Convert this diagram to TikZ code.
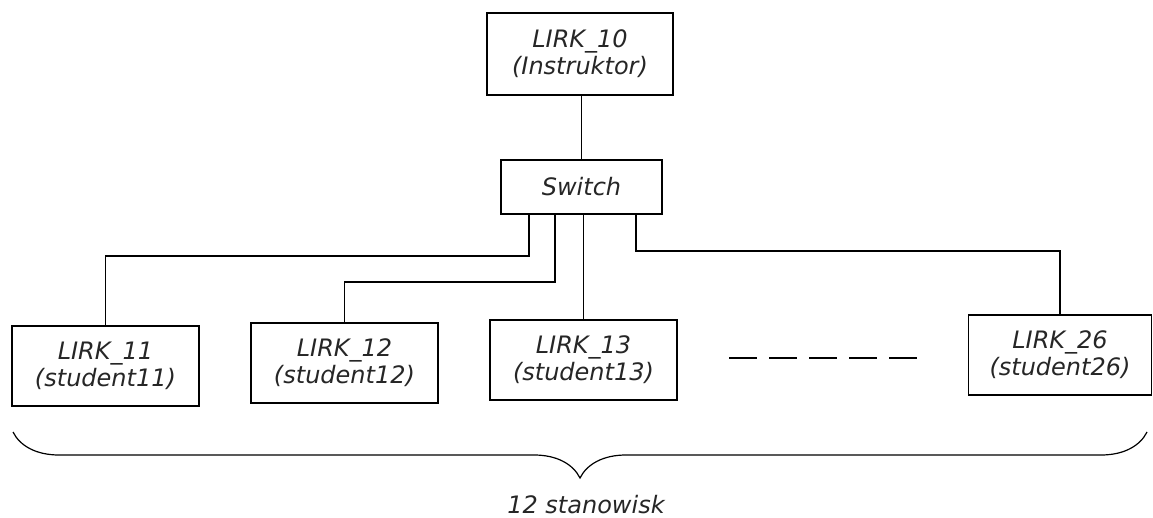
\documentclass[tikz,border=0pt]{standalone}
\usepackage{fontspec}
\setmainfont{DejaVu Sans}
\usepackage{tikz}
\usetikzlibrary{positioning, decorations.pathreplacing}

\tikzset{
    pcbox/.style={draw, line width=1.4pt, minimum width=187pt, minimum height=80pt,
        align=center, inner sep=0pt, font=\fontsize{24}{27}\selectfont\itshape, text=black!85},
    link/.style={line width=1.4pt}
}

\begin{document}
\begin{tikzpicture}[x=1pt, y=-1pt]
    \useasboundingbox (0,0) rectangle (1153,518);

    % instruktor i switch
    \node[pcbox, minimum width=186pt, minimum height=82pt] (instr) at (580,54) {LIRK\_10\\(Instruktor)};
    \node[pcbox, minimum width=161pt, minimum height=54pt] (switch) at (581.5,187) {Switch};

    % stanowiska studentow
    \node[pcbox] (s11) at (105.5,366) {LIRK\_11\\(student11)};
    \node[pcbox] (s12) at (344.5,363) {LIRK\_12\\(student12)};
    \node[pcbox] (s13) at (583.5,360) {LIRK\_13\\(student13)};
    \node[pcbox, minimum width=183pt] (s26) at (1060,355) {LIRK\_26\\(student26)};

    \draw[link] (instr.south -| switch.north) -- (switch.north);

    \draw[link] ([xshift=-52.5pt]switch.south) |- (s11.north |- 0,256) -- (s11.north);
    \draw[link] ([xshift=-26.5pt]switch.south) |- (s12.north |- 0,282) -- (s12.north);
    \draw[link] (switch.south -| s13.north) -- (s13.north);
    \draw[link] ([xshift=54.5pt]switch.south) |- (s26.north |- 0,251) -- (s26.north);

    % kolejne stanowiska
    \coordinate (dotsL) at (729,358);
    \coordinate (dotsR) at (917,358);
    \draw[link, dash pattern=on 28pt off 12pt] (dotsL) -- (dotsR);

    % klamra
    \coordinate (braceL) at (13,432);
    \coordinate (braceR) at (1147,432);
    \draw[line width=1.2pt, decorate, decoration={brace, mirror, amplitude=46pt}] (braceL) -- (braceR);
    \node[font=\fontsize{24}{27}\selectfont\itshape, text=black!85] (count) at (586,505) {12 stanowisk};
\end{tikzpicture}
\end{document}
